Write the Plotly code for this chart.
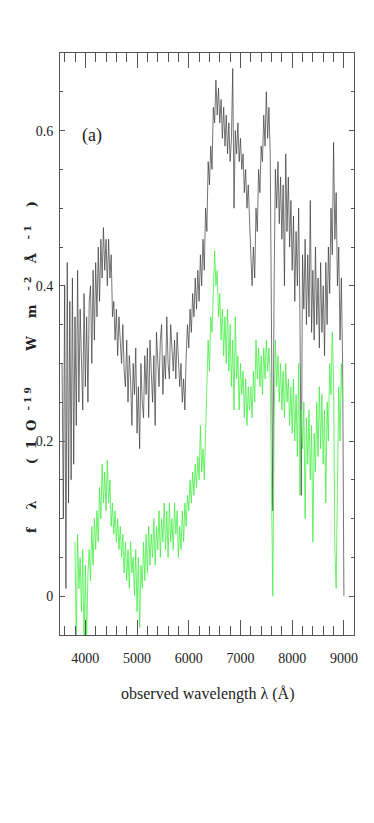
import plotly.graph_objects as go

# Sampling grid of the spectra (Angstrom)
black_start, green_start, step = 3550, 3800, 25

black_flux = [
    0.30, 0.10, 0.40, 0.01, 0.43, 0.12, 0.38, 0.15, 0.41, 0.17, 0.36,
    0.22, 0.42, 0.25, 0.37, 0.31, 0.24, 0.39, 0.27, 0.36, 0.25, 0.38, 0.40,
    0.30, 0.42, 0.33, 0.43, 0.36, 0.45, 0.38, 0.46,
    0.41, 0.475, 0.42, 0.46, 0.40, 0.46, 0.41, 0.44,
    0.36, 0.38, 0.33, 0.37, 0.31, 0.36, 0.33, 0.30, 0.35, 0.29, 0.27, 0.33,
    0.25, 0.31, 0.28, 0.22, 0.30, 0.26, 0.32, 0.21, 0.27, 0.19, 0.30, 0.25, 0.23, 0.31, 0.26, 0.32,
    0.23, 0.33, 0.29, 0.25, 0.31, 0.22, 0.34, 0.30, 0.27, 0.33, 0.35, 0.26, 0.31, 0.28, 0.36, 0.30,
    0.28, 0.35, 0.31, 0.29, 0.33, 0.28, 0.34, 0.30, 0.27, 0.30,
    0.25, 0.28, 0.24, 0.31,
    0.35, 0.32, 0.37, 0.34, 0.39, 0.36, 0.41, 0.37, 0.42, 0.38, 0.44, 0.40, 0.46, 0.42,
    0.50, 0.47, 0.56, 0.53, 0.58, 0.55,
    0.63, 0.61, 0.665, 0.62, 0.655, 0.61,
    0.64, 0.59, 0.63, 0.58, 0.62, 0.57, 0.61, 0.56, 0.59, 0.68,
    0.50, 0.60, 0.57, 0.61, 0.56, 0.59, 0.55, 0.57, 0.52, 0.55, 0.50, 0.53, 0.47,
    0.44, 0.40, 0.45, 0.41, 0.50,
    0.47, 0.55, 0.52, 0.58, 0.56, 0.62, 0.58, 0.65, 0.59, 0.63, 0.57,
    0.30, 0.11, 0.40,
    0.55, 0.50, 0.56, 0.48, 0.54, 0.46, 0.53, 0.40, 0.57, 0.47, 0.54, 0.45,
    0.51, 0.42, 0.49, 0.38, 0.47, 0.40, 0.50, 0.36, 0.13, 0.44, 0.37, 0.46, 0.35, 0.44, 0.36,
    0.51, 0.34, 0.42, 0.33, 0.45, 0.35, 0.41, 0.32, 0.43, 0.34, 0.40, 0.31, 0.43, 0.35, 0.45, 0.39,
    0.50, 0.44, 0.585, 0.46, 0.52, 0.40,
    0.45, 0.33, 0.41, 0.30, 0.00,
]

green_flux = [
    0.07, -0.06, 0.08, 0.01, 0.05, -0.02, 0.06, -0.07, 0.04, -0.06, 0.03, 0.06,
    0.02, 0.09, 0.04, 0.10, 0.06, 0.11, 0.07,
    0.14, 0.10, 0.17, 0.12, 0.16, 0.11, 0.175, 0.12, 0.15,
    0.09, 0.12, 0.08, 0.11, 0.07, 0.10, 0.06, 0.09, 0.05,
    0.08, 0.03, 0.07, 0.02, 0.06, 0.01, 0.07, 0.03, 0.05, 0.00, 0.06, -0.02, 0.05, -0.04, 0.04, 0.01,
    0.07, 0.02, 0.08, 0.03, 0.09, 0.04, 0.08, 0.05, 0.10, 0.04, 0.09, 0.06, 0.11, 0.05, 0.10, 0.07, 0.12, 0.06,
    0.11, 0.05, 0.12, 0.07, 0.10, 0.06, 0.12, 0.08, 0.11, 0.05, 0.09, 0.06, 0.11, 0.07, 0.12, 0.09,
    0.13, 0.11, 0.15, 0.12, 0.16, 0.13, 0.17, 0.14, 0.18, 0.15, 0.22, 0.16, 0.19, 0.15,
    0.22, 0.30, 0.33, 0.29, 0.36, 0.34,
    0.41, 0.445, 0.40, 0.42, 0.36, 0.39,
    0.33, 0.37, 0.31, 0.36, 0.30, 0.37, 0.29, 0.35, 0.27, 0.33, 0.24, 0.36,
    0.28, 0.31, 0.24, 0.30, 0.26, 0.29, 0.23, 0.28, 0.22, 0.27, 0.24,
    0.27, 0.23, 0.29, 0.25, 0.33, 0.28, 0.32, 0.27, 0.31, 0.26, 0.32, 0.28, 0.33, 0.29, 0.32, 0.28,
    0.15, 0.00, 0.22,
    0.33, 0.27, 0.31, 0.25, 0.30, 0.24, 0.29, 0.23, 0.30, 0.25, 0.28, 0.22,
    0.27, 0.21, 0.28, 0.20, 0.26, 0.18, 0.30, 0.13, 0.24, 0.19, 0.25, 0.10, 0.23, 0.17, 0.24, 0.15,
    0.22, 0.07, 0.21, 0.16, 0.25, 0.18, 0.27, 0.19, 0.26, 0.17, 0.24, 0.12, 0.25, 0.20,
    0.30, 0.26, 0.34, 0.28, 0.06, 0.01, 0.15, 0.27, 0.20, 0.30, 0.25,
]

black_wave = [black_start + step * i for i in range(len(black_flux))]
green_wave = [green_start + step * i for i in range(len(green_flux))]

x_tickvals = [4000, 5000, 6000, 7000, 8000, 9000]
x_ticktext = ["4000", "5000", "6000", "7000", "8000", "9000"]
y_tickvals = [0, 0.2, 0.4, 0.6]
y_ticktext = ["0", "0.2", "0.4", "0.6"]

SERIF = "Liberation Serif"
AX = "#555555"
NB = "\u00a0"

fig = go.Figure()
fig.add_trace(go.Scatter(x=black_wave, y=black_flux, mode="lines",
                         line=dict(color="#3a3a3a", width=0.7), showlegend=False))
fig.add_trace(go.Scatter(x=green_wave, y=green_flux, mode="lines",
                         line=dict(color="#44ee44", width=0.8), showlegend=False))

fig.update_layout(
    width=366, height=815,
    margin=dict(l=52, r=20, t=45, b=188),
    paper_bgcolor="white", plot_bgcolor="white",
    font=dict(family=SERIF, size=14, color="#222"),
    xaxis=dict(range=[3510, 9195], tickvals=x_tickvals, ticktext=x_ticktext,
               ticks="inside", ticklen=15, tickcolor=AX, tickwidth=1,
               showline=True, linecolor=AX, linewidth=1, mirror="allticks",
               showgrid=False, zeroline=False, ticklabelstandoff=10,
               minor=dict(dtick=200, tick0=3600, ticks="inside", ticklen=9,
                          tickcolor=AX, showgrid=False)),
    yaxis=dict(range=[-0.05, 0.7], tickvals=y_tickvals, ticktext=y_ticktext,
               ticks="inside", ticklen=5, tickcolor=AX, tickwidth=1,
               showline=True, linecolor=AX, linewidth=1, mirror="allticks",
               showgrid=False, zeroline=False, ticklabelstandoff=3,
               minor=dict(dtick=0.05, tick0=0, ticks="inside", ticklen=3,
                          tickcolor=AX, showgrid=False)),
)

fig.add_annotation(x=4130, y=0.594, xref="x", yref="y", text="(a)", showarrow=False,
                   font=dict(family=SERIF, size=18, color="#222"))
fig.add_annotation(x=0.5, y=-0.101, xref="paper", yref="paper",
                   text="observed wavelength λ (Å)", showarrow=False,
                   font=dict(family=SERIF, size=16, color="#222"), yanchor="middle")

ylabel = ("<b>f" + NB * 4 + "λ" + NB * 8 + "(" + NB * 2 + "1" + NB * 2 + "O" + NB * 2
          + "<sup>–" + NB + "1" + NB + "9</sup>" + NB * 8 + "W" + NB * 4 + "m" + NB * 3
          + "<sup>–" + NB + "2</sup>" + NB * 3 + "Å" + NB * 3 + "<sup>–" + NB + "1</sup>"
          + NB * 4 + ")</b>")
fig.add_annotation(x=-0.102, y=0.46, xref="paper", yref="paper", textangle=-90,
                   text=ylabel, showarrow=False, xanchor="center", yanchor="middle",
                   font=dict(family="DejaVu Serif", size=13, color="#222"))

fig.write_html("out.html")
